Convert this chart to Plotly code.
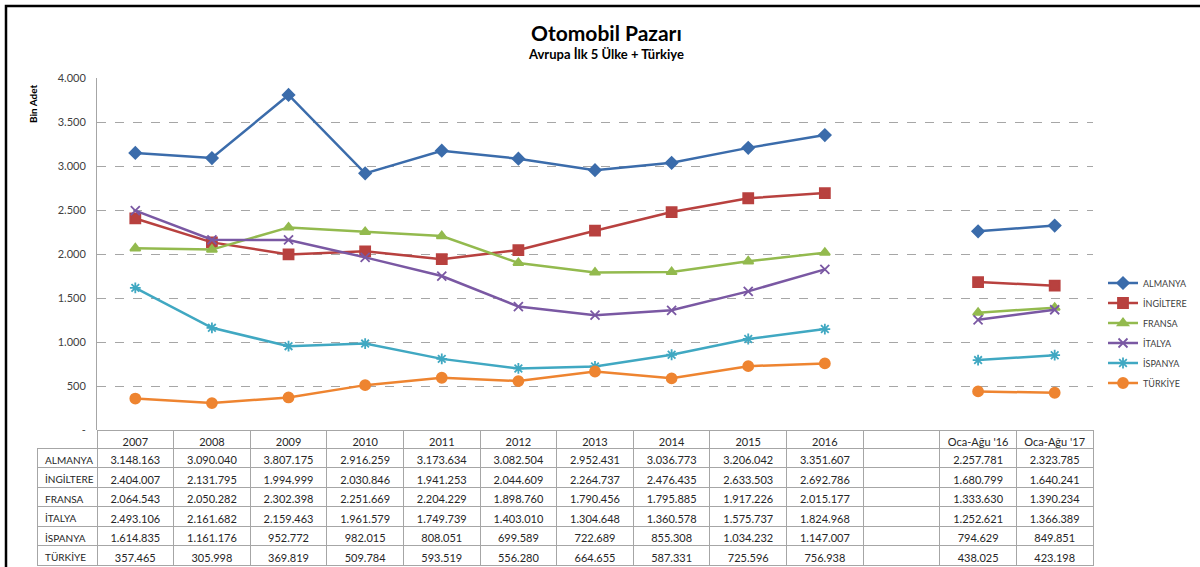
import plotly.graph_objects as go

# ---------------- data ----------------
columns = ["2007", "2008", "2009", "2010", "2011", "2012", "2013", "2014", "2015", "2016",
           "", "Oca-Ağu\u00a0'16", "Oca-Ağu\u00a0'17"]
countries = ["ALMANYA", "İNGİLTERE", "FRANSA", "İTALYA", "İSPANYA", "TÜRKİYE"]

almanya = [3148163, 3090040, 3807175, 2916259, 3173634, 3082504, 2952431, 3036773, 3206042, 3351607, None, 2257781, 2323785]
ingiltere = [2404007, 2131795, 1994999, 2030846, 1941253, 2044609, 2264737, 2476435, 2633503, 2692786, None, 1680799, 1640241]
fransa = [2064543, 2050282, 2302398, 2251669, 2204229, 1898760, 1790456, 1795885, 1917226, 2015177, None, 1333630, 1390234]
italya = [2493106, 2161682, 2159463, 1961579, 1749739, 1403010, 1304648, 1360578, 1575737, 1824968, None, 1252621, 1366389]
ispanya = [1614835, 1161176, 952772, 982015, 808051, 699589, 722689, 855308, 1034232, 1147007, None, 794629, 849851]
turkiye = [357465, 305998, 369819, 509784, 593519, 556280, 664655, 587331, 725596, 756938, None, 438025, 423198]

series = [almanya, ingiltere, fransa, italya, ispanya, turkiye]
colors = ["#3B6CAB", "#B8413F", "#93BA4E", "#7A58A3", "#40A8C2", "#EE8430"]
symbols = ["diamond", "square", "triangle-up", "x-thin", "asterisk", "circle"]
marker_sizes = [9, 10, 9, 9, 9, 10]

y_ticks = [0, 500, 1000, 1500, 2000, 2500, 3000, 3500, 4000]

# ---------------- helpers ----------------
W, H = 1200, 567


def fmt(v):
    if v is None:
        return ""
    return f"{v:,}".replace(",", ".")


def px_x(px):
    return px / W


def px_y(py):
    return 1 - py / H


PL, PR, PT, PB = 97, 1093, 78, 430
n = len(columns)
xpos = list(range(n))

fig = go.Figure()

for name, vals, col, sym, ms in zip(countries, series, colors, symbols, marker_sizes):
    yv = [None if v is None else v / 1000 for v in vals]
    fig.add_trace(go.Scatter(
        x=xpos, y=yv, name=name, mode="lines+markers",
        connectgaps=False,
        line=dict(color=col, width=2.5),
        marker=dict(symbol=sym, size=ms, color=col, line=dict(color=col, width=1.8)),
        legendgroup=name,
    ))

# table
header_vals = [""] + columns
cell_cols = [countries] + [[fmt(s[i]) for s in series] for i in range(n)]
col_w = (PR - PL) / n
fig.add_trace(go.Table(
    domain=dict(x=[px_x(37), px_x(PR)], y=[px_y(566), px_y(PB)]),
    columnwidth=[60] + [col_w] * n,
    header=dict(
        values=header_vals,
        height=18,
        align="center",
        fill=dict(color=["rgba(0,0,0,0)"] + ["white"] * n),
        line=dict(color=["rgba(0,0,0,0)"] + ["#A6A6A6"] * n, width=1),
        font=dict(family="Lato, Carlito, sans-serif", size=11, color="#262626"),
    ),
    cells=dict(
        values=cell_cols,
        height=19.5,
        align=["left"] + ["center"] * n,
        fill=dict(color="white"),
        line=dict(color="#A6A6A6", width=1),
        font=dict(family="Lato, Carlito, sans-serif", size=[10] + [11] * n, color="#262626"),
    ),
))

fig.update_layout(
    width=W, height=H,
    margin=dict(l=0, r=0, t=0, b=0),
    paper_bgcolor="white", plot_bgcolor="white",
    font=dict(family="Lato, sans-serif", color="#404040"),
    xaxis=dict(domain=[px_x(PL), px_x(PR)], range=[-0.5, n - 0.5],
               showticklabels=False, showgrid=False, zeroline=False,
               showline=False, automargin=False, fixedrange=True),
    yaxis=dict(domain=[px_y(PB), px_y(PT)], range=[0, 4000],
               tickvals=y_ticks,
               ticktext=["-" if t == 0 else fmt(t) for t in y_ticks],
               tickfont=dict(size=11, color="#404040", family="Lato, sans-serif"),
               showgrid=True, gridcolor="#A6A6A6", griddash="dash", gridwidth=1,
               zeroline=False, showline=True, linecolor="#A6A6A6", linewidth=1,
               ticks="", automargin=False, ticklabelstandoff=8),
    showlegend=True,
    legend=dict(x=px_x(1103), y=px_y(333), xanchor="left", yanchor="middle",
                font=dict(size=9, color="#404040", family="Lato, sans-serif"),
                tracegroupgap=1, itemwidth=30, bgcolor="rgba(0,0,0,0)"),
    shapes=[
        dict(type="rect", xref="paper", yref="paper",
             x0=px_x(6), x1=1.02, y0=-0.02, y1=px_y(6),
             line=dict(color="black", width=2.5), fillcolor="rgba(0,0,0,0)"),
    ],
    annotations=[
        dict(text="<b>Otomobil Pazarı</b>", x=px_x(606), y=px_y(33), xref="paper", yref="paper",
             showarrow=False, xanchor="center", yanchor="middle",
             font=dict(size=21, color="black", family="Lato, sans-serif")),
        dict(text="<b>Avrupa İlk 5 Ülke + Türkiye</b>", x=px_x(606), y=px_y(54), xref="paper", yref="paper",
             showarrow=False, xanchor="center", yanchor="middle",
             font=dict(size=13, color="black", family="Lato, sans-serif")),
        dict(text="<b>Bin Adet</b>", x=px_x(33), y=px_y(104), xref="paper", yref="paper",
             showarrow=False, textangle=-90, xanchor="center", yanchor="middle",
             font=dict(size=10, color="black", family="Lato, sans-serif")),
    ],
)

fig.write_html("out.html", config={"displayModeBar": False},
               post_script="document.body.style.margin='0px';")
